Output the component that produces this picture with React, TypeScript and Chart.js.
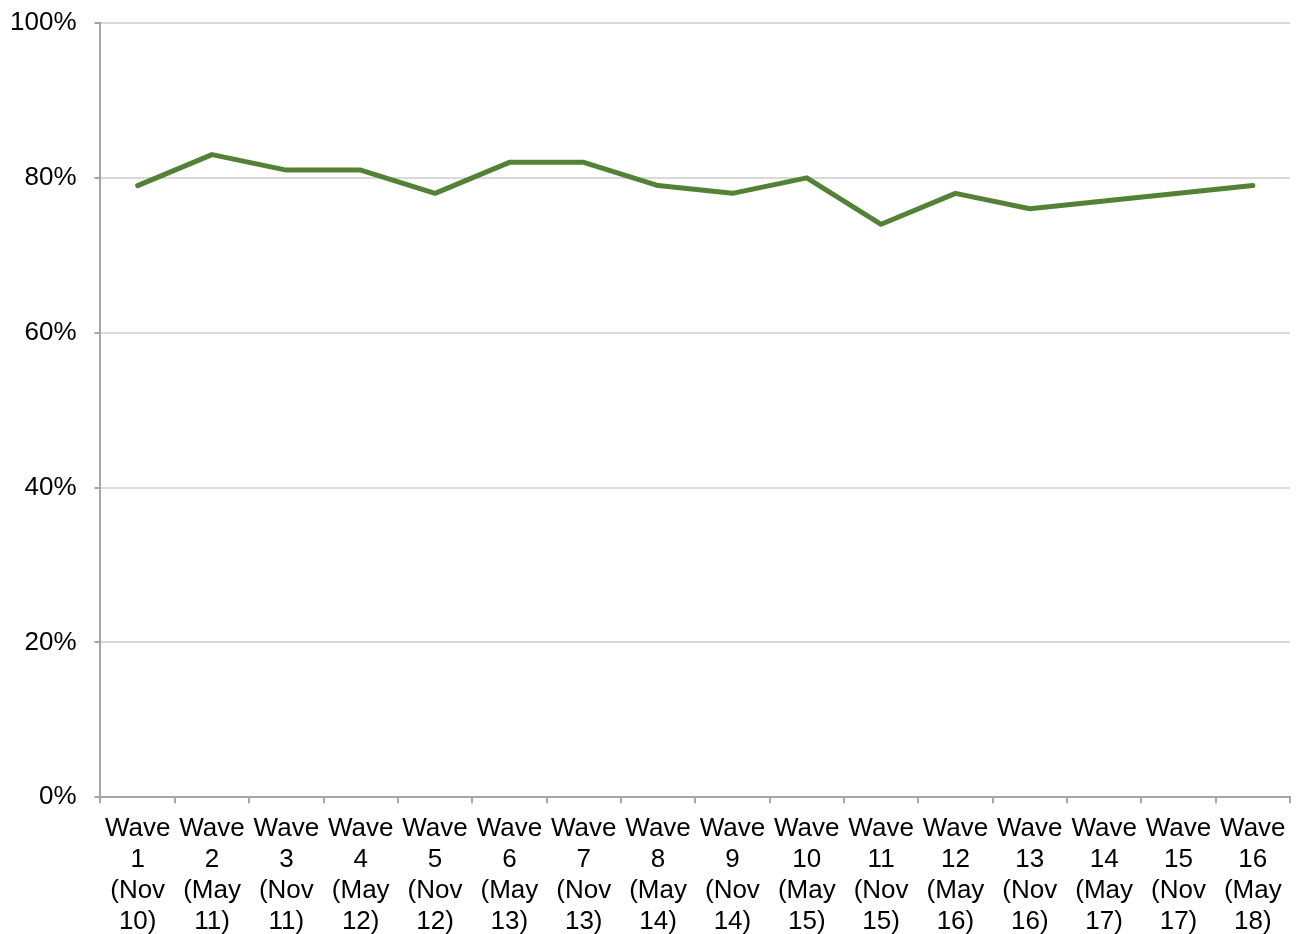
import React, { useEffect, useRef } from "react";
import { Chart, registerables } from "chart.js";

Chart.register(...registerables);

const waves = ["1", "2", "3", "4", "5", "6", "7", "8", "9", "10", "11", "12", "13", "14", "15", "16"];
const periods = ["Nov 10", "May 11", "Nov 11", "May 12", "Nov 12", "May 13", "Nov 13", "May 14", "Nov 14", "May 15", "Nov 15", "May 16", "Nov 16", "May 17", "Nov 17", "May 18"];
const values = [79, 83, 81, 81, 78, 82, 82, 79, 78, 80, 74, 78, 76, 77, 78, 79];
const yTicks = [0, 20, 40, 60, 80, 100];

export default function App() {
  const ref = useRef<HTMLCanvasElement | null>(null);
  useEffect(() => {
    if (!ref.current) return;
    const labels = waves.map((w, i) => {
      const [m, y] = periods[i].split(" ");
      return ["Wave", w, "(" + m, y + ")"];
    });
    const font = { family: "'Liberation Sans', Arial, sans-serif", size: 26 };
    const chart = new Chart(ref.current, {
      type: "line",
      data: {
        labels,
        datasets: [
          {
            data: values,
            borderColor: "#538135",
            backgroundColor: "#538135",
            borderWidth: 5,
            pointRadius: 0,
            tension: 0,
            borderCapStyle: "round",
            borderJoinStyle: "round",
          },
        ],
      },
      options: {
        animation: false,
        responsive: false,
        maintainAspectRatio: false,
        layout: { padding: { top: 23, right: 9, left: -8, bottom: -13 } },
        plugins: { legend: { display: false }, tooltip: { enabled: false } },
        scales: {
          x: {
            offset: true,
            afterFit: (axis: any) => {
              axis.paddingLeft = 0;
              axis.paddingRight = 0;
            },
            grid: {
              offset: true,
              drawOnChartArea: false,
              drawTicks: true,
              tickLength: 6,
              tickColor: "#a6a6a6",
              lineWidth: 2,
            },
            border: { color: "#a6a6a6", width: 2 },
            ticks: {
              font: { ...font, lineHeight: 1.19 },
              color: "#000",
              maxRotation: 0,
              autoSkip: false,
              padding: 10,
            },
          },
          y: {
            min: 0,
            max: 100,
            afterBuildTicks: (axis: any) => {
              axis.ticks = yTicks.map((v) => ({ value: v }));
            },
            afterFit: (axis: any) => {
              axis.paddingTop = 0;
              axis.paddingBottom = 0;
            },
            grid: {
              color: "#d9d9d9",
              lineWidth: 2,
              tickLength: 6,
              tickColor: "#a6a6a6",
            },
            border: { color: "#a6a6a6", width: 2 },
            ticks: {
              font,
              color: "#000",
              padding: 18,
              callback: (v: any) => v + "%",
            },
          },
        },
      },
    });
    return () => chart.destroy();
  }, []);
  return (
    <div style={{ position: "fixed", left: 0, top: 0, width: 1299, height: 934, background: "#fff" }}>
      <canvas ref={ref} width={1299} height={934} style={{ width: 1299, height: 934 }} />
    </div>
  );
}
